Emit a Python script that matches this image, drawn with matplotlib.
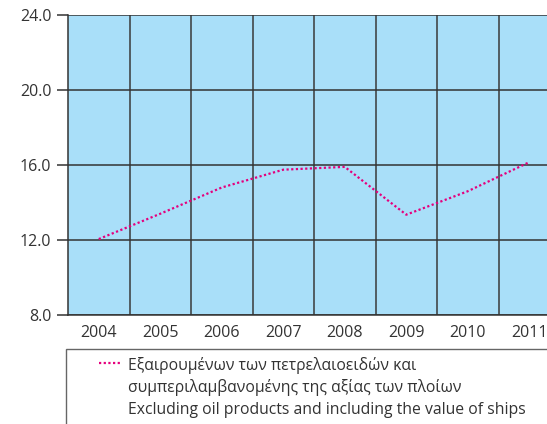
import matplotlib
matplotlib.use("Agg")
import matplotlib.pyplot as plt
from matplotlib.patches import Rectangle
from matplotlib.lines import Line2D

# data
YEARS = ["2004", "2005", "2006", "2007", "2008", "2009", "2010", "2011"]
VALUES = [12.05, 13.4, 14.8, 15.75, 15.9, 13.35, 14.6, 16.15]
Y_TICKS = [8.0, 12.0, 16.0, 20.0, 24.0]
LABEL_LINES = ["Εξαιρουμένων των πετρελαιοειδών και",
               "συμπεριλαμβανομένης της αξίας των πλοίων",
               "Excluding oil products and including the value of ships"]

plt.rcParams["font.family"] = ["Open Sans", "DejaVu Sans"]

W, H = 547, 424
LINE_C = "#E5007D"
LINE_STYLE = (0, (1, 1.1))
grid_c = "#333333"

fig = plt.figure(figsize=(W / 100, H / 100), dpi=100)
# plot area runs past the right edge of the picture, as in the original
ax = fig.add_axes([68 / W, 1 - 315 / H, (560 - 68) / W, 300 / H])
ax.set_facecolor("#A9DFF9")

x = list(range(len(YEARS)))
ax.plot(x, VALUES, color=LINE_C, lw=1.6, linestyle=LINE_STYLE, zorder=3)

ax.set_xlim(-0.5, len(YEARS) - 0.5)
ax.set_ylim(8, 24)
ax.set_xticks(x)
ax.set_xticklabels(YEARS)
ax.set_xticks([i + 0.5 for i in x[:-1]], minor=True)
ax.set_yticks(Y_TICKS)
ax.set_yticklabels([f"{v:.1f}" for v in Y_TICKS])

ax.grid(True, axis="x", which="minor", color="#3a3a3a", lw=1.1)
ax.grid(True, axis="y", which="major", color=grid_c, lw=1.1)
ax.tick_params(axis="x", which="both", length=0, pad=7, labelsize=11.5,
               labelcolor="#333333")
ax.tick_params(axis="y", length=8, width=1.1, color=grid_c, pad=4,
               labelsize=11.5, labelcolor="#333333")
for s in ["top", "right"]:
    ax.spines[s].set_visible(False)
for s in ["left", "bottom"]:
    ax.spines[s].set_color(grid_c)
    ax.spines[s].set_linewidth(1.1)

# legend box, cut off by the picture like the original
fig.add_artist(Rectangle((66 / W, -0.05), 1.0, 1 - 349 / H + 0.05,
                         transform=fig.transFigure, facecolor="white",
                         edgecolor="#666666", lw=1.0))
fig.add_artist(Line2D([99 / W, 122 / W], [1 - 363 / H] * 2,
                      transform=fig.transFigure, color=LINE_C, lw=1.6,
                      linestyle=LINE_STYLE))
for i, txt in enumerate(LABEL_LINES):
    fig.text(128 / W, 1 - (370 + 22 * i) / H, txt, ha="left",
             va="baseline", fontsize=11.3, color="#333333")

fig.savefig("out.png", dpi=100)
